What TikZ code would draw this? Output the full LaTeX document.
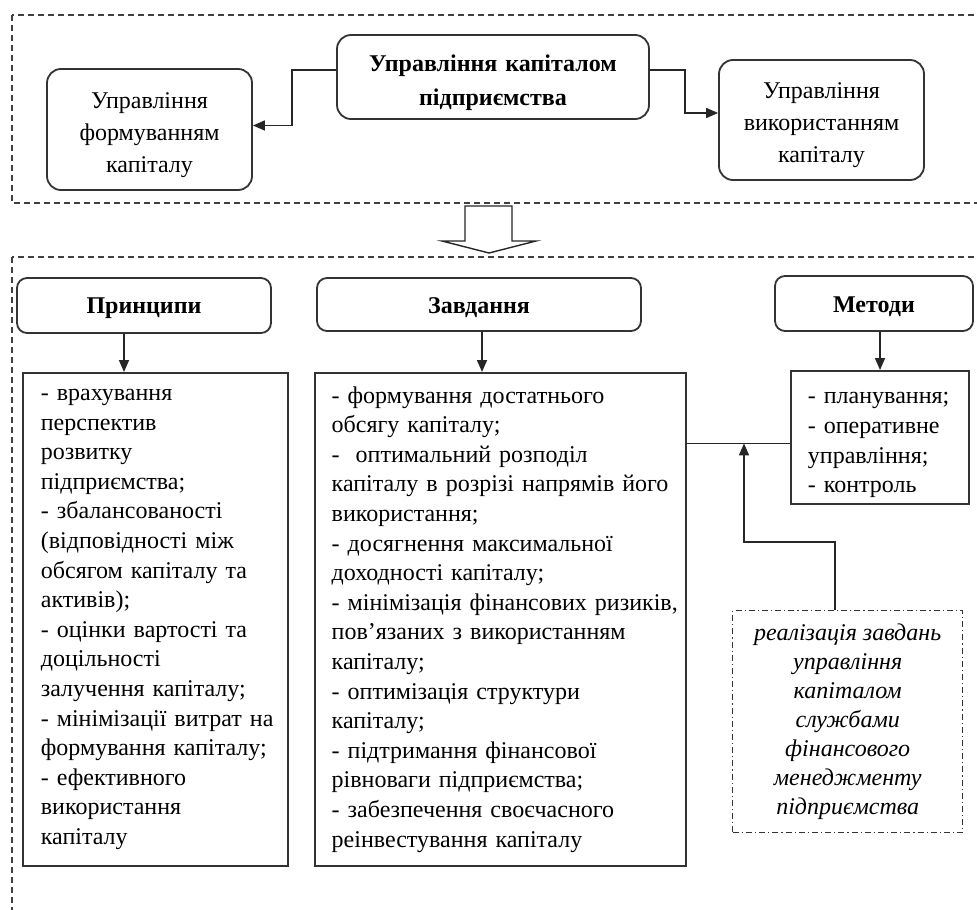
\documentclass[tikz,border=0pt]{standalone}
\usepackage{fontspec}
\setmainfont{Liberation Serif}
\usetikzlibrary{
    arrows.meta,
    positioning,
    calc
}
\tikzset{
    % Dashed frame round each level
    levelframe/.style={
        draw=black!75,
        line width=0.9pt,
        dash pattern=on 3pt off 2pt,
    },
    % Upper level boxes - rounded
    topbox/.style={
        draw=black!80,
        line width=0.9pt,
        rounded corners=7pt,
        align=center,
        inner sep=2pt,
        font=\fontsize{12}{16}\selectfont,
        text width=98.5pt,
        minimum height=60.5pt,
        execute at begin node={\rule{0pt}{13.5pt}},
    },
    mainbox/.style={
        topbox,
        font=\bfseries\fontsize{12}{17}\selectfont,
        text width=152pt,
        minimum height=42pt,
        execute at begin node={\rule{0pt}{14.5pt}},
    },
    % Headers of the lower level
    headbox/.style={
        draw=black!80,
        line width=0.9pt,
        rounded corners=5pt,
        align=center,
        font=\bfseries\fontsize{12}{14}\selectfont,
        minimum height=27.5pt,
        execute at begin node={\rule{0pt}{11pt}},
    },
    % Plain boxes with the lists
    listbox/.style={
        draw=black!80,
        line width=0.9pt,
        align=left,
        anchor=north west,
        inner xsep=2pt,
        inner ysep=0pt,
        font=\fontsize{12}{14.8}\selectfont,
        execute at begin node={\leftskip=6.5pt},
    },
    % Dash-dot note box
    notebox/.style={
        draw=black!80,
        line width=0.7pt,
        dash pattern=on 3pt off 1.5pt on 0.6pt off 1.5pt,
        align=center,
        anchor=north west,
        inner sep=0pt,
        font=\itshape\fontsize{12}{14.5}\selectfont,
    },
    arrow/.style={
        -{Triangle[length=6pt, width=5pt]},
        line width=0.8pt,
        draw=black!85,
    },
    link/.style={
        line width=0.7pt,
        draw=black!85,
    },
    bigarrow/.style={
        draw=black!85,
        line width=0.7pt,
        fill=white,
    },
}

\begin{document}
\begin{tikzpicture}[x=0.5pt, y=-0.5pt]
    \useasboundingbox (0,0) rectangle (977,909);

    % upper level
    \draw [levelframe] (12,15) rectangle (1000,203);
    \node (mainnode) [mainbox] at (493,77) {Управління капіталом\\підприємства};
    \node (formnode) [topbox] at (149.5,129.5) {Управління\\формуванням\\капіталу};
    \node (usenode) [topbox, minimum height=60pt] at (821.5,120) {Управління\\використанням\\капіталу};

    \draw [arrow] ([yshift=3.5pt]mainnode.west) -- ++(-44,0) |- ([yshift=2pt]formnode.east);
    \draw [arrow] ([yshift=3.5pt]mainnode.east) -- ++(35,0) |- ([yshift=3.5pt]usenode.west);

    % hollow arrow between the levels
    \draw [bigarrow] (465,206) -- (465,241) -- (442,241) -- (489,253)
        -- (536,241) -- (512,241) -- (512,206) -- cycle;

    % lower level
    \draw [levelframe] (12,257) rectangle (1000,960);
    \node (principlehead) [headbox, minimum width=127pt] at (144,305.5) {Принципи};
    \node (taskhead) [headbox, minimum width=162pt, minimum height=26.5pt] at (479,304.5) {Завдання};
    \node (methodhead) [headbox, minimum width=99pt] at (874,303.5) {Методи};

    \node (principlebox) [listbox, text width=128.5pt, minimum height=246.5pt,
        execute at begin node={\leftskip=7pt}] at (22,372) {%
        - врахування\\перспектив\\розвитку\\підприємства;\\
        - збалансованості\\(відповідності між\\обсягом капіталу та\\активів);\\
        - оцінки вартості та\\доцільності\\залучення капіталу;\\
        - мінімізації витрат на\\формування капіталу;\\
        - ефективного\\використання\\капіталу};
    \node (taskbox) [listbox, text width=181.5pt, minimum height=246.5pt,
        right=12.5pt of principlebox.north east, anchor=north west] {%
        - формування достатнього\\обсягу капіталу;\\
        - \ оптимальний розподіл\\капіталу в розрізі напрямів його\\використання;\\
        - досягнення максимальної\\доходності капіталу;\\
        - мінімізація фінансових ризиків,\\пов’язаних з використанням\\капіталу;\\
        - оптимізація структури\\капіталу;\\
        - підтримання фінансової\\рівноваги підприємства;\\
        - забезпечення своєчасного\\реінвестування капіталу};
    \node (methodbox) [listbox, text width=85pt, minimum height=66.5pt,
        execute at begin node={\leftskip=6.5pt\rule{0pt}{13.5pt}}] at (790,370) {%
        - планування;\\- оперативне\\управління;\\- контроль};
    \node (realbox) [notebox, minimum width=115pt, minimum height=111pt] at (732,610) {%
        реалізація завдань\\управління\\капіталом\\службами\\фінансового\\менеджменту\\підприємства};

    \coordinate (p1) at ([xshift=-10pt]principlehead.south);
    \coordinate (t1) at ([xshift=1.5pt]taskhead.south);
    \coordinate (m1) at ([xshift=3pt]methodhead.south);
    \draw [arrow] (p1) -- (p1 |- principlebox.north);
    \draw [arrow] (t1) -- (t1 |- taskbox.north);
    \draw [arrow] (m1) -- (m1 |- methodbox.north);

    \coordinate (mlink) at ([yshift=-3pt]methodbox.west);
    \draw [link] (mlink) -- (mlink -| taskbox.east);
    \path (mlink) ++(-46,0) coordinate (join);
    \draw [arrow] ([xshift=-6.5pt]realbox.north) -- ++(0,-68) -| (join);
\end{tikzpicture}
\end{document}
